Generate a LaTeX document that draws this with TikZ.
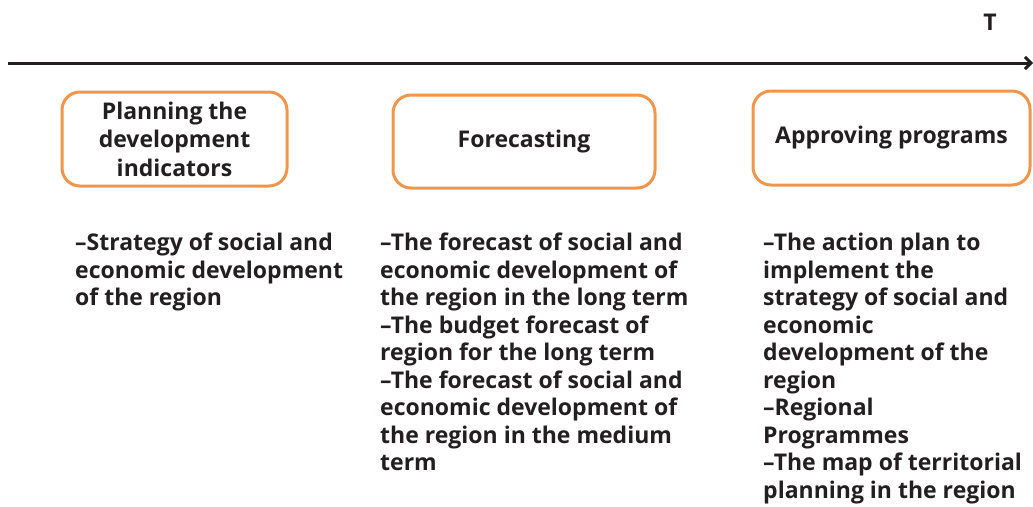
\documentclass[tikz,border=0pt]{standalone}
\usepackage{fontspec}
\setmainfont{Open Sans}
\usepackage{tikz}
\usetikzlibrary{positioning, arrows.meta}
\definecolor{naranja}{RGB}{240, 150, 76}
\definecolor{tinta}{RGB}{35, 31, 32}

\begin{document}
\begin{tikzpicture}[x=1pt, y=-1pt,
      box/.style={draw=naranja, line width=3pt, rounded corners=18pt,
                  fill=white, align=center, text=tinta, inner sep=0pt,
                  font=\fontsize{23}{28.5}\selectfont\bfseries},
      lista/.style={anchor=north west, align=left, inner sep=0pt, text=tinta,
                    font=\fontsize{23}{27.5}\selectfont\bfseries},
      eje/.style={-{Straight Barb[length=6pt, width=12pt]}, line width=3pt, color=tinta}]
    \useasboundingbox (0,0) rectangle (1033,506);
    % time axis
    \coordinate (ini) at (8,63);
    \coordinate (fin) at (1033,63);
    \draw[eje] (ini) -- (fin);
    \node[text=tinta, font=\fontsize{23}{24}\selectfont\bfseries] (t) at (990,22) {T};
    % stages
    \node[box, minimum width=225pt, minimum height=94pt] (plan) at (174.5,139)
        {Planning the\\ development\\ indicators};
    \node[box, minimum width=262pt, minimum height=93pt] (prog) at (524,141.5)
        {Forecasting};
    \node[box, minimum width=277pt, minimum height=94pt] (aprob) at (891.5,138)
        {Approving programs};
    % documents of each stage
    \node[lista] (docplan) at (75,233)
        {–Strategy of social and\\ economic development\\ of the region};
    \node[lista] (docprog) at (380,233)
        {–The forecast of social and\\ economic development of\\ the region in the long term\\
         –The budget forecast of\\ region for the long term\\ –The forecast of social and\\
         economic development of\\ the region in the medium\\ term};
    \node[lista] (docaprob) at (763,233)
        {–The action plan to\\ implement the\\ strategy of social and\\ economic\\
         development of the\\ region\\ –Regional\\ Programmes\\
         –The map of territorial\\ planning in the region};
  \end{tikzpicture}
\end{document}
